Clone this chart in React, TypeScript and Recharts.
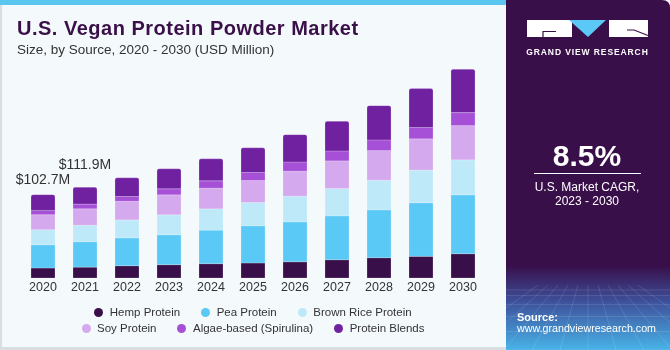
import React from 'react';
import { BarChart, Bar, XAxis, YAxis, LabelList } from 'recharts';

const years = ['2020', '2021', '2022', '2023', '2024', '2025', '2026', '2027', '2028', '2029', '2030'];
const hemp = [12.3, 13.4, 15.1, 16.4, 17.6, 18.5, 20.0, 22.5, 25.0, 26.7, 29.9];
const pea = [28.7, 31.3, 34.4, 36.9, 41.4, 45.9, 49.2, 54.1, 59.0, 66.1, 72.6];
const brownRice = [18.5, 20.3, 22.1, 24.6, 26.2, 28.7, 31.6, 33.6, 36.5, 40.2, 43.1];
const soy = [18.5, 20.3, 23.0, 24.6, 25.5, 27.1, 30.8, 34.1, 36.5, 38.5, 42.2];
const algae = [5.3, 5.8, 5.8, 7.4, 9.0, 9.8, 11.4, 12.3, 13.2, 13.9, 16.0];
const blends = [19.4, 20.8, 23.0, 24.6, 27.1, 30.4, 33.6, 36.5, 42.2, 48.0, 53.3];
const totalLabels = ['$102.7M', '$111.9M'];
const labelGaps = [11, 18];

const series = [
  { key: 'hemp', name: 'Hemp Protein', color: '#380f49', values: hemp },
  { key: 'pea', name: 'Pea Protein', color: '#5bc9f6', values: pea },
  { key: 'brownRice', name: 'Brown Rice Protein', color: '#bde9f9', values: brownRice },
  { key: 'soy', name: 'Soy Protein', color: '#d5a9ed', values: soy },
  { key: 'algae', name: 'Algae-based (Spirulina)', color: '#a64fd7', values: algae },
  { key: 'blends', name: 'Protein Blends', color: '#6f21a0', values: blends },
];

const data = years.map((year, i) => {
  const row: Record<string, string | number> = { year };
  series.forEach((s) => {
    row[s.key] = s.values[i];
  });
  return row;
});

const FONT = '"Liberation Sans", Arial, sans-serif';

const renderTotal = (props: any) => {
  const { x, y, width, index } = props;
  if (index >= totalLabels.length) return null;
  return (
    <text
      x={x + width / 2}
      y={y - labelGaps[index]}
      textAnchor="middle"
      fontSize={14}
      fontFamily={FONT}
      fill="#333333"
    >
      {totalLabels[index]}
    </text>
  );
};

const legendRows = [series.slice(0, 3), series.slice(3)];

export default function App() {
  return (
    <div
      style={{
        position: 'fixed',
        left: 0,
        top: 0,
        width: 670,
        height: 350,
        overflow: 'hidden',
        fontFamily: FONT,
      }}
    >
      <svg width={670} height={350} style={{ position: 'absolute', left: 0, top: 0 }}>
        <defs>
          <linearGradient id="panelGrad" x1="0" y1="0" x2="0" y2="1">
            <stop offset="0" stopColor="#390f4a" />
            <stop offset="0.76" stopColor="#390f4a" />
            <stop offset="0.86" stopColor="#3d4f9a" />
            <stop offset="1" stopColor="#48b3e8" />
          </linearGradient>
        </defs>
        <rect x={0} y={0} width={506} height={350} fill="#f4f9fc" />
        <rect x={0} y={0} width={2} height={350} fill="#d9dee3" />
        <rect x={0} y={347} width={506} height={3} fill="#d9dee3" />
        <rect x={0} y={0} width={506} height={5} fill="#5bc6ef" />
        <path
          d="M506,0 H662 Q670,0 670,8 V350 H506 Z"
          fill="url(#panelGrad)"
        />
        {/* faint grid in the panel */}
        {[0, 1, 2, 3, 4, 5, 6].map((i) => (
          <line
            key={'h' + i}
            x1={506}
            x2={670}
            y1={290 + i * i * 1.6 + i * 4}
            y2={290 + i * i * 1.6 + i * 4}
            stroke="#ffffff"
            strokeOpacity={0.12}
          />
        ))}
        {[0, 1, 2, 3, 4, 5, 6, 7, 8, 9, 10].map((i) => (
          <line
            key={'v' + i}
            x1={588 + (i - 5) * 10}
            y1={285}
            x2={588 + (i - 5) * 28}
            y2={350}
            stroke="#ffffff"
            strokeOpacity={0.12}
          />
        ))}
        <text x={17} y={35} fontSize={20} fontWeight={700} fill="#3a1048" letterSpacing={0.5} fontFamily={FONT}>
          U.S. Vegan Protein Powder Market
        </text>
        <text x={17} y={54} fontSize={13.5} fill="#333333" fontFamily={FONT}>
          Size, by Source, 2020 - 2030 (USD Million)
        </text>
        {/* logo */}
        <rect x={527} y={20} width={45} height={17} fill="#ffffff" />
        <path d="M543,37 V31.5 H556" stroke="#390f4a" strokeWidth={1.2} fill="none" />
        <path d="M569,20 H606 L588,37 Z" fill="#5bc8f5" />
        <rect x={609} y={20} width={39} height={17} fill="#ffffff" />
        <path d="M627,30 H634 L648,35.5" stroke="#390f4a" strokeWidth={1.2} fill="none" />
        <text x={587.5} y={54.5} fontSize={8.5} fontWeight={700} fill="#ffffff" textAnchor="middle" letterSpacing={0.9} fontFamily={FONT}>
          GRAND VIEW RESEARCH
        </text>
        <text x={587} y={166} fontSize={30} fontWeight={700} fill="#ffffff" textAnchor="middle" fontFamily={FONT}>
          8.5%
        </text>
        <line x1={534} x2={641} y1={173.5} y2={173.5} stroke="#ffffff" strokeWidth={1.2} />
        <text x={587} y={190.5} fontSize={12} fill="#ffffff" textAnchor="middle" fontFamily={FONT}>
          U.S. Market CAGR,
        </text>
        <text x={587} y={205} fontSize={12} fill="#ffffff" textAnchor="middle" fontFamily={FONT}>
          2023 - 2030
        </text>
        <text x={517} y={320.5} fontSize={11} fontWeight={700} fill="#ffffff" fontFamily={FONT}>
          Source:
        </text>
        <text x={517} y={332} fontSize={10.7} fill="#ffffff" fontFamily={FONT}>
          www.grandviewresearch.com
        </text>
      </svg>

      <div style={{ position: 'absolute', left: 0, top: 0 }}>
        <BarChart
          width={505}
          height={300}
          data={data}
          margin={{ top: 67, right: 21, bottom: 2, left: 22 }}
          barSize={24}
        >
          <XAxis
            dataKey="year"
            axisLine={false}
            tickLine={false}
            tickSize={2}
            tickMargin={2}
            height={20}
            interval={0}
            tick={{ fontSize: 12.5, fill: '#333333', fontFamily: FONT }}
          />
          <YAxis hide domain={[0, 260]} />
          {series.map((s, i) => (
            <Bar
              key={s.key}
              dataKey={s.key}
              name={s.name}
              stackId="a"
              fill={s.color}
              stroke="#ffffff"
              strokeOpacity={0.35}
              strokeWidth={0.6}
              radius={i === series.length - 1 ? [2, 2, 0, 0] : 0}
              isAnimationActive={false}
            >
              {i === series.length - 1 ? <LabelList dataKey={s.key} content={renderTotal} /> : null}
            </Bar>
          ))}
        </BarChart>
      </div>

      <div style={{ position: 'absolute', left: 0, top: 304, width: 506 }}>
        {legendRows.map((row, r) => (
          <div
            key={r}
            style={{
              display: 'flex',
              justifyContent: 'center',
              height: 16,
              alignItems: 'center',
              gap: 21,
            }}
          >
            {row.map((s) => (
              <div key={s.key} style={{ display: 'flex', alignItems: 'center' }}>
                <span
                  style={{
                    width: 9,
                    height: 9,
                    borderRadius: '50%',
                    background: s.color,
                    display: 'inline-block',
                    marginRight: 6.5,
                  }}
                />
                <span style={{ fontSize: 11.5, color: '#333333', lineHeight: '16px', whiteSpace: 'nowrap' }}>
                  {s.name}
                </span>
              </div>
            ))}
          </div>
        ))}
      </div>
    </div>
  );
}
